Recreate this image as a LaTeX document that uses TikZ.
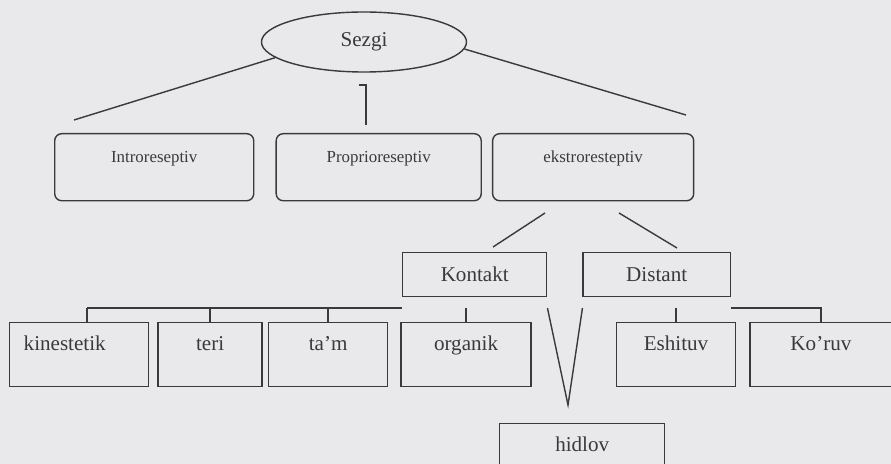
\documentclass[tikz,border=0pt]{standalone}
\usepackage{fontspec}
\setmainfont{Liberation Serif}
\usepackage{xcolor}
\usetikzlibrary{shapes.geometric, positioning}

\definecolor{paper}{RGB}{233,233,236}
\definecolor{ink}{RGB}{58,58,60}

\tikzset{
  root/.style={ellipse, draw, minimum width=5.125cm, minimum height=1.5cm, font=\fontsize{15}{18}\selectfont},
  kind/.style={rectangle, rounded corners=5pt, draw, inner ysep=0pt, text height=0.725cm, text depth=0.95cm, font=\fontsize{12}{14}\selectfont},
  group/.style={rectangle, draw, inner ysep=0pt, text height=0.725cm, text depth=0.375cm, font=\fontsize{15}{18}\selectfont},
  sense/.style={rectangle, draw, inner ysep=0pt, text height=0.7cm, text depth=0.9cm, font=\fontsize{15}{18}\selectfont}
}

\begin{document}
\begin{tikzpicture}[x=0.025cm, y=-0.025cm, line width=1pt, color=ink]
\useasboundingbox (0,0) rectangle (891,464);
\fill[paper] (0,0) rectangle (891,464);
\clip (0,0) rectangle (891,464);

\node[root] (sezgi) at (364,42) {Sezgi};

% first level, rounded boxes
\node[kind, minimum width=4.975cm, anchor=north west] (intro) at (54,133) {Introreseptiv};
\node[kind, minimum width=5.125cm, right=0.525cm of intro] (proprio) {Proprioreseptiv};
\node[kind, minimum width=5.025cm, right=0.25cm of proprio] (ekstro) {ekstroresteptiv};

\node[group, minimum width=3.6cm, anchor=north west] (kontakt) at (402,252) {Kontakt};
\node[group, minimum width=3.675cm, right=0.875cm of kontakt] (distant) {Distant};

% senses
\node[sense, anchor=north west, text width=2.775cm, inner xsep=0.35cm, align=left] (kinestetik) at (9,322) {kinestetik};
\node[sense, minimum width=2.6cm, right=0.2cm of kinestetik] (teri) {teri};
\node[sense, minimum width=2.975cm, right=0.125cm of teri] (tam) {ta’m};
\node[sense, minimum width=3.25cm, right=0.3cm of tam] (organik) {organik};
\node[sense, minimum width=2.975cm, right=2.1cm of organik] (eshituv) {Eshituv};
\node[sense, minimum width=3.55cm, right=0.325cm of eshituv] (koruv) {Ko’ruv};
\node[sense, minimum width=4.125cm, anchor=north west] (hidlov) at (499,423) {hidlov};

\coordinate (lftEnd) at (74,120);
\coordinate (rgtEnd) at (686,115);
\coordinate (midTop) at (359,85);
\coordinate (midEnd) at (366,125);
\coordinate (kStart) at (545,213);
\coordinate (kEnd) at (493,247);
\coordinate (dStart) at (619,213);
\coordinate (dEnd) at (677,248);
\coordinate (busL) at (87,308);
\coordinate (vTip) at (568,405);

\draw (sezgi.190) -- (lftEnd);
\draw (sezgi.356) -- (rgtEnd);
\draw (midTop) -| (midEnd);
\draw (kStart) -- (kEnd);
\draw (dStart) -- (dEnd);

% contact group bus
\draw (busL) -- (kontakt.west |- busL);
\draw (busL) -- (busL |- kinestetik.north);
\foreach \n in {teri, tam, organik, eshituv}
  \draw (\n.north |- busL) -- (\n.north);
\draw (kontakt.south east |- busL) -- (vTip) -- (distant.south west |- busL);
\draw (distant.south east |- busL) -| (koruv.north);
\end{tikzpicture}
\end{document}
